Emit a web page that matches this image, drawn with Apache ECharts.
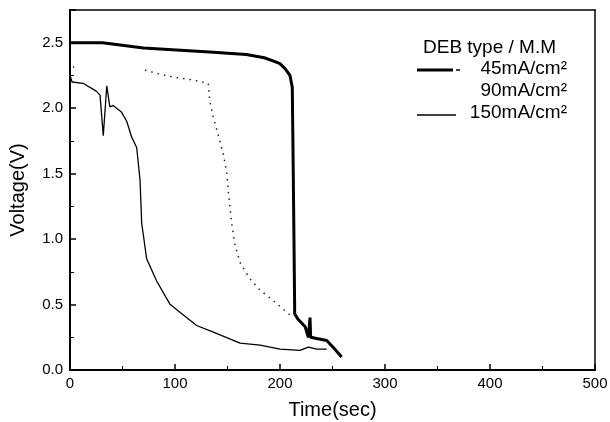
<!DOCTYPE html>
<html><head><meta charset="utf-8">
<script src="https://cdn.jsdelivr.net/npm/echarts@6/dist/echarts.min.js"></script>
<style>html,body{margin:0;padding:0;background:#fff}#c{width:610px;height:422px}</style>
</head><body><div id="c"></div>
<script>
const xTicks = [0, 100, 200, 300, 400, 500];
const yTicks = [0.0, 0.5, 1.0, 1.5, 2.0, 2.5];
const seriesNames = ['45mA/cm\u00B2', '90mA/cm\u00B2', '150mA/cm\u00B2'];
const legendTitle = 'DEB type / M.M';

const s45 = [[0,2.50],[31,2.50],[70,2.46],[133,2.43],[168,2.41],[185,2.385],[194,2.36],[200,2.34],[205,2.30],[209.5,2.25],[211.7,2.16],[212.5,1.6],[213.3,1.0],[214,0.43],[217,0.39],[224,0.33],[227,0.25],[228,0.25],[228.6,0.40],[229.2,0.25],[235,0.24],[244.5,0.225],[251,0.17],[258.7,0.10]];
const s90 = [[3,2.32],[6.3,2.28],null,[71.4,2.29],[85.7,2.26],[100,2.235],[114,2.22],[131.7,2.19],[133,2.06],[136.5,1.93],[141,1.80],[146,1.65],[149,1.52],[150.7,1.37],[154,1.12],[157,0.96],[162,0.82],[171,0.70],[181,0.61],[193.6,0.53],[209.5,0.42]];
const s150 = [[0,2.25],[2,2.20],[12.4,2.19],[25,2.13],[28.6,2.10],[31.7,1.79],[35,2.17],[36.5,2.16],[38,2.01],[41,2.02],[49,1.97],[54,1.90],[58.7,1.78],[63.5,1.70],[66.7,1.45],[68.3,1.12],[73,0.85],[82.5,0.68],[95,0.505],[105,0.44],[120.6,0.34],[136.5,0.29],[162,0.205],[181,0.19],[200,0.16],[219,0.15],[227,0.175],[235,0.16],[244.5,0.16]];

const chart = echarts.init(document.getElementById('c'));
const font = 'Liberation Sans, Arial, sans-serif';
const xMin = xTicks[0], xMax = xTicks[xTicks.length - 1];
const frameAxis = {show: true, axisLine: {show: true, onZero: false, lineStyle: {color: '#000', width: 1.5}},
  axisTick: {show: false}, axisLabel: {show: false}, splitLine: {show: false}};
const legendText = (txt, y) => ({type: 'text', x: 567, y: y, silent: true,
  style: {text: txt, font: '19px ' + font, fill: '#000', align: 'right', verticalAlign: 'middle'}});
chart.setOption({
  animation: false,
  grid: {left: 70, right: 15, top: 10, bottom: 52, containLabel: false, outerBoundsMode: 'none'},
  xAxis: [{
    type: 'value', min: xMin, max: xMax, interval: 100,
    name: 'Time(sec)', nameLocation: 'middle', nameGap: 30,
    nameTextStyle: {fontFamily: font, fontSize: 20, color: '#000'},
    axisLine: {onZero: false, lineStyle: {color: '#000', width: 2}},
    axisTick: {inside: true, length: 6, lineStyle: {color: '#000', width: 1.5}},
    minorTick: {show: true, splitNumber: 2, length: 4, lineStyle: {color: '#000', width: 1}},
    axisLabel: {fontFamily: font, fontSize: 15, color: '#000', margin: 6},
    splitLine: {show: false}
  }, Object.assign({type: 'value', position: 'top', min: xMin, max: xMax}, frameAxis)],
  yAxis: [{
    type: 'value', min: 0, max: 2.75, interval: 0.5,
    name: 'Voltage(V)', nameLocation: 'middle', nameGap: 42,
    nameTextStyle: {fontFamily: font, fontSize: 20, color: '#000'},
    axisLine: {onZero: false, lineStyle: {color: '#000', width: 2}},
    axisTick: {inside: true, length: 6, lineStyle: {color: '#000', width: 1.5}},
    minorTick: {show: true, splitNumber: 2, length: 4, lineStyle: {color: '#000', width: 1}},
    axisLabel: {fontFamily: font, fontSize: 15, color: '#000', margin: 7,
      formatter: v => yTicks.indexOf(v) >= 0 ? v.toFixed(1) : ''},
    splitLine: {show: false}
  }, Object.assign({type: 'value', position: 'right', min: 0, max: 2.75}, frameAxis)],
  graphic: [
    {type: 'text', x: 423, y: 48, silent: true,
     style: {text: legendTitle, font: '19px ' + font, fill: '#000', verticalAlign: 'middle'}},
    {type: 'line', silent: true, shape: {x1: 417, y1: 70, x2: 453, y2: 70}, style: {stroke: '#000', lineWidth: 3}},
    {type: 'line', silent: true, shape: {x1: 456, y1: 70, x2: 460, y2: 70}, style: {stroke: '#000', lineWidth: 1.5}},
    {type: 'line', silent: true, shape: {x1: 417, y1: 115, x2: 456, y2: 115}, style: {stroke: '#000', lineWidth: 1.3}},
    legendText(seriesNames[0], 69),
    legendText(seriesNames[1], 91),
    legendText(seriesNames[2], 113)
  ],
  series: [
    {name: seriesNames[0], type: 'line', data: s45, symbol: 'none', connectNulls: false,
     lineStyle: {color: '#000', width: 3}, itemStyle: {color: '#000'}},
    {name: seriesNames[1], type: 'line', data: s90, symbol: 'none', connectNulls: false,
     lineStyle: {color: '#222', width: 1.5, type: [1.5, 5]}, itemStyle: {color: '#222'}},
    {name: seriesNames[2], type: 'line', data: s150, symbol: 'none',
     lineStyle: {color: '#000', width: 1.3}, itemStyle: {color: '#000'}}
  ]
});
</script></body></html>
